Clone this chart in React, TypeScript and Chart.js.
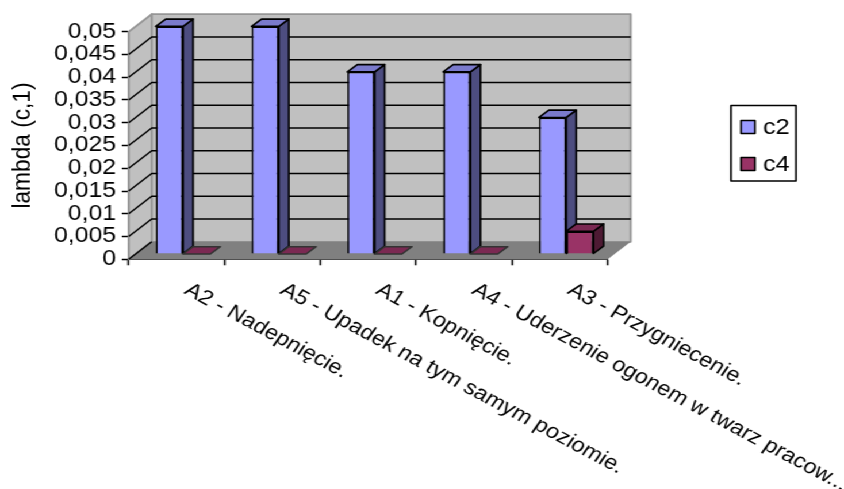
import React, { useEffect, useRef } from "react";
import { Chart, registerables } from "chart.js";

Chart.register(...registerables);

const categories = [
  "A2 - Nadepnięcie.",
  "A5 - Upadek na tym samym poziomie.",
  "A1 - Kopnięcie.",
  "A4 - Uderzenie ogonem w twarz pracow...",
  "A3 - Przygniecenie.",
];
const c2Values = [0.05, 0.05, 0.04, 0.04, 0.03];
const c4Values = [0, 0, 0, 0, 0.005];
const yTickLabels = ["0", "0,005", "0,01", "0,015", "0,02", "0,025", "0,03", "0,035", "0,04", "0,045", "0,05"];
const axisTitle = "lambda (c,1)";

const LOGICAL_W = 734;
const H = 489;
const SX = 844 / LOGICAL_W;
const FONT = "'Liberation Sans', Arial, sans-serif";
const fill = {
  c2: ["#9999FF", "#7A7ACC", "#4D4D80"],
  c4: ["#993366", "#7A2952", "#4D1A33"],
};
const DEPTH_X = 20;
const DEPTH_Y = 17.5;
const BAR_SHIFT_X = 5.6;
const BAR_SHIFT_Y = 5.3;
const BAR_DEPTH_X = 8.7;
const BAR_DEPTH_Y = 7.3;

function poly(ctx: CanvasRenderingContext2D, pts: number[][], f: string | null, s: string | null, lw = 1.6) {
  ctx.beginPath();
  pts.forEach((p, i) => (i ? ctx.lineTo(p[0], p[1]) : ctx.moveTo(p[0], p[1])));
  ctx.closePath();
  if (f) {
    ctx.fillStyle = f;
    ctx.fill();
  }
  if (s) {
    ctx.strokeStyle = s;
    ctx.lineWidth = lw;
    ctx.lineJoin = "round";
    ctx.stroke();
  }
}

const scene3d = {
  id: "scene3d",
  beforeDatasetsDraw(chart: any) {
    const { ctx, chartArea: a, scales } = chart;
    const { left: L, right: R, top: T, bottom: B } = a;
    ctx.save();
    // walls and floor
    poly(ctx, [[L, B], [L + DEPTH_X, B - DEPTH_Y], [L + DEPTH_X, T - DEPTH_Y], [L, T]], "#C0C0C0", "#969696", 1.8);
    poly(ctx, [[L + DEPTH_X, B - DEPTH_Y], [R + DEPTH_X, B - DEPTH_Y], [R + DEPTH_X, T - DEPTH_Y], [L + DEPTH_X, T - DEPTH_Y]], "#C0C0C0", "#969696", 1.8);
    poly(ctx, [[L, B], [R, B], [R + DEPTH_X, B - DEPTH_Y], [L + DEPTH_X, B - DEPTH_Y]], "#808080", null);
    // gridlines, taken from the value scale
    ctx.strokeStyle = "#000";
    ctx.lineWidth = 1.5;
    scales.y.ticks.forEach((t: any) => {
      const y = scales.y.getPixelForValue(t.value);
      if (t.value >= 0.0499) return;
      ctx.beginPath();
      ctx.moveTo(L, y);
      ctx.lineTo(L + DEPTH_X, y - DEPTH_Y);
      if (t.value > 0.0001) ctx.lineTo(R + DEPTH_X, y - DEPTH_Y);
      ctx.stroke();
    });
    // bar depth faces
    const keys = ["c2", "c4"] as const;
    chart.data.datasets.forEach((_: any, di: number) => {
      const colors = fill[keys[di]];
      chart.getDatasetMeta(di).data.forEach((el: any) => {
        const p = el.getProps(["x", "y", "base", "width"], true);
        const x0 = p.x - p.width / 2 + BAR_SHIFT_X;
        const x1 = p.x + p.width / 2 + BAR_SHIFT_X;
        const yT = p.y - BAR_SHIFT_Y;
        const yB = p.base - BAR_SHIFT_Y;
        if (yB - yT > 0.5) {
          poly(ctx, [[x1, yT], [x1 + BAR_DEPTH_X, yT - BAR_DEPTH_Y], [x1 + BAR_DEPTH_X, yB - BAR_DEPTH_Y], [x1, yB]], colors[2], "#000");
        }
        poly(ctx, [[x0, yT], [x1, yT], [x1 + BAR_DEPTH_X, yT - BAR_DEPTH_Y], [x0 + BAR_DEPTH_X, yT - BAR_DEPTH_Y]], colors[1], yB - yT > 0.5 ? "#000" : "#333");
      });
    });
    ctx.restore();
    ctx.save();
    ctx.translate(BAR_SHIFT_X, -BAR_SHIFT_Y);
  },
  afterDatasetsDraw(chart: any) {
    chart.ctx.restore();
  },
  afterDraw(chart: any) {
    const { ctx, scales } = chart;
    ctx.save();
    ctx.fillStyle = "#000";
    ctx.font = `20.5px ${FONT}`;
    ctx.textAlign = "left";
    ctx.textBaseline = "alphabetic";
    (chart.data.labels as string[]).forEach((label, i) => {
      const x = scales.x.getPixelForValue(i) + BAR_SHIFT_X;
      ctx.save();
      ctx.translate(x, 293);
      ctx.rotate((31.5 * Math.PI) / 180);
      ctx.fillText(label, 0, 0);
      ctx.restore();
    });
    // legend
    ctx.font = `22px ${FONT}`;
    const lx = 731 / SX;
    const lw = 65 / SX;
    poly(ctx, [[lx, 105.5], [lx + lw, 105.5], [lx + lw, 181], [lx, 181]], "#fff", "#000");
    const rows = [127, 164];
    const keys = ["c2", "c4"] as const;
    chart.data.datasets.forEach((ds: any, i: number) => {
      const sx = 741 / SX;
      const sw = 14 / SX;
      const cy = rows[i];
      poly(ctx, [[sx, cy - 6.5], [sx + sw, cy - 6.5], [sx + sw, cy + 6.5], [sx, cy + 6.5]], fill[keys[i]][0], "#000");
      ctx.fillStyle = "#000";
      ctx.textBaseline = "middle";
      ctx.fillText(ds.label, 763 / SX, cy + 1);
    });
    ctx.restore();
  },
};

export default function App() {
  const ref = useRef<HTMLCanvasElement>(null);
  useEffect(() => {
    const chart = new Chart(ref.current as HTMLCanvasElement, {
      type: "bar",
      plugins: [scene3d],
      data: {
        labels: categories,
        datasets: [
          { label: "c2", data: c2Values, backgroundColor: fill.c2[0], borderColor: "#000", borderWidth: 1.7, clip: false, categoryPercentage: 0.57, barPercentage: 1 },
          { label: "c4", data: c4Values, backgroundColor: fill.c4[0], borderColor: "#000", borderWidth: (c: any) => (c.raw > 0 ? 1.7 : 0), clip: false, categoryPercentage: 0.57, barPercentage: 1 },
        ] as any,
      },
      options: {
        animation: false,
        responsive: false,
        devicePixelRatio: 1,
        layout: { padding: { left: 0, top: 31.7, right: LOGICAL_W - 607.7 / SX, bottom: H - 259.3 } },
        plugins: { legend: { display: false }, tooltip: { enabled: false }, title: { display: false } },
        scales: {
          x: {
            type: "category",
            afterFit: (s: any) => { s.height = 0; },
            ticks: { display: false },
            grid: { drawOnChartArea: false, drawTicks: true, tickLength: 6, tickColor: "#000", tickWidth: 1.5 },
            border: { color: "#000", width: 1.8 },
          },
          y: {
            min: 0,
            max: 0.05,
            afterFit: (s: any) => { s.width = 128.7 / SX; },
            ticks: {
              stepSize: 0.005,
              autoSkip: false,
              padding: 5,
              color: "#000",
              font: { family: FONT, size: 21.5 },
              callback: (_v: any, i: number) => yTickLabels[i],
            },
            grid: { drawOnChartArea: false, drawTicks: true, tickLength: 6, tickColor: "#000", tickWidth: 1.5 },
            border: { color: "#000", width: 1.8 },
            title: { display: true, text: axisTitle, color: "#000", font: { family: FONT, size: 22.7 }, padding: { top: 6.5, bottom: 0 } },
          },
        },
      } as any,
    });
    return () => chart.destroy();
  }, []);
  return (
    <div style={{ position: "fixed", left: 0, top: 0, width: LOGICAL_W, height: H, transform: `scaleX(${SX})`, transformOrigin: "0 0", background: "#fff" }}>
      <canvas ref={ref} width={LOGICAL_W} height={H} />
    </div>
  );
}
